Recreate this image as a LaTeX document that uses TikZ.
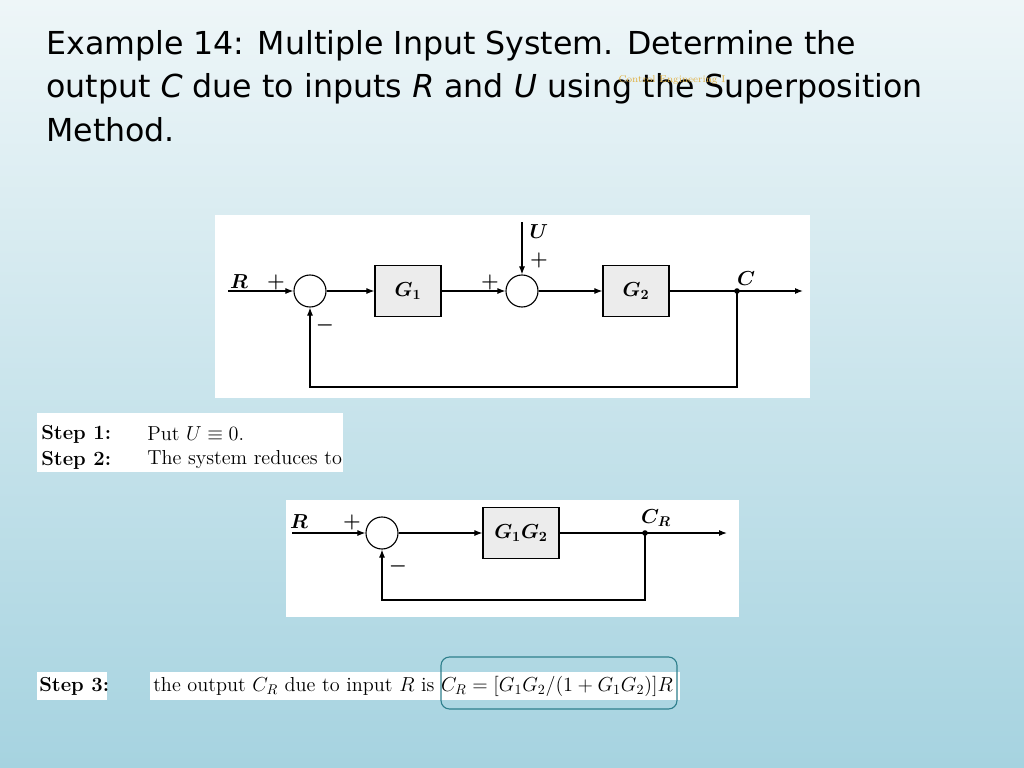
\documentclass[tikz,border=0pt]{standalone}
\usepackage{fontspec}
\usepackage{tikz}
\usetikzlibrary{arrows.meta, positioning, calc}
\newfontfamily\titlefont{DejaVu Sans}
\definecolor{bgtop}{HTML}{EEF6F8}
\definecolor{bgbot}{HTML}{A6D3E0}
\definecolor{framecol}{HTML}{2E7F8C}
\definecolor{markcol}{HTML}{E0B040}

\begin{document}
\begin{tikzpicture}[x=0.025cm, y=-0.025cm,
    panel/.style={fill=white, draw=none},
    block/.style={rectangle, draw, thick, fill=gray!15, minimum width=1.65cm, minimum height=1.27cm, font=\Large\boldmath},
    summer/.style={circle, draw, thick, minimum size=0.8cm, inner sep=0pt},
    sig/.style={thick, -{Latex[length=2mm]}},
    lab/.style={font=\Large\boldmath},
    steptext/.style={font=\Large, anchor=west, inner sep=0pt}
]
    % background
    \shade[top color=bgtop, bottom color=bgbot] (0,0) rectangle (1024,768);
    \useasboundingbox (0,0) rectangle (1024,768);

    % title
    \node[anchor=north west, align=left, font=\titlefont\fontsize{22.5}{31}\selectfont, inner sep=0pt] (title) at (46,30)
        {Example 14: Multiple Input System. Determine the\\
         output \textit{C} due to inputs \textit{R} and \textit{U} using the Superposition\\
         Method.};
    \node[font=\scriptsize, text=markcol] (mark) at (672,80) {Control Engineering I};

    % first diagram
    \fill[panel] (215,215) rectangle (810,398);
    \node[summer] (s1) at (310,291) {};
    \node[block] (g1) at (408,291) {$G_1$};
    \node[summer] (s2) at (522,291) {};
    \node[block] (g2) at (636,291) {$G_2$};
    \coordinate (rin) at (228,291);
    \coordinate (cout) at (803,291);
    \coordinate (uin) at (522,222);
    \coordinate (fb1) at (310,387);
    \fill (737,291) circle (2.8) coordinate (c1);
    \draw[sig] (rin) -- (s1.west);
    \draw[sig] (s1.east) -- (g1.west);
    \draw[sig] (g1.east) -- (s2.west);
    \draw[sig] (uin) -- (s2.north);
    \draw[sig] (s2.east) -- (g2.west);
    \draw[sig] (g2.east) -- (cout);
    \draw[sig] (c1) |- (fb1) -- (s1.south);
    \node[lab] (lr) at (239,282) {$R$};
    \node[lab] (lp1) at (276,282) {$+$};
    \node[lab] (lm1) at (325,325) {$-$};
    \node[lab] (lp2) at (490,282) {$+$};
    \node[lab] (lu) at (539,232) {$U$};
    \node[lab] (lp3) at (539,260) {$+$};
    \node[lab] (lc) at (746,279) {$C$};

    % step 1 and 2
    \fill[panel] (37,413) rectangle (343,472);
    \node[steptext, font=\Large\bfseries] (st1) at (41,434) {Step 1:};
    \node[steptext, font=\Large\bfseries] (st2) at (41,460) {Step 2:};
    \node[steptext] (tx1) at (147,434) {Put $U\equiv 0$.};
    \node[steptext] (tx2) at (147,460) {The system reduces to};

    % second diagram
    \fill[panel] (286,500) rectangle (739,617);
    \node[summer] (s3) at (382,533) {};
    \node[block, minimum width=1.9cm] (g12) at (521,533) {$G_1G_2$};
    \coordinate (rin2) at (292,533);
    \coordinate (cout2) at (727,533);
    \coordinate (fb2) at (382,600);
    \fill (645,533) circle (2.8) coordinate (c2);
    \draw[sig] (rin2) -- (s3.west);
    \draw[sig] (s3.east) -- (g12.west);
    \draw[sig] (g12.east) -- (cout2);
    \draw[sig] (c2) |- (fb2) -- (s3.south);
    \node[lab] (lr2) at (299,522) {$R$};
    \node[lab] (lp4) at (352,522) {$+$};
    \node[lab] (lm2) at (398,566) {$-$};
    \node[lab] (lc2) at (656,518) {$C_R$};

    % step 3
    \fill[panel] (37,672) rectangle (107,700);
    \fill[panel] (150,672) rectangle (680,700);
    \node[steptext, font=\Large\bfseries] (st3) at (39,686) {Step 3:};
    \node[steptext] (tx3) at (153,686) {the output $C_R$ due to input $R$ is $C_R=[G_1G_2/(1+G_1G_2)]R$};
    \draw[framecol, thick, rounded corners=6] (441,657) rectangle (677,709);
\end{tikzpicture}
\end{document}
